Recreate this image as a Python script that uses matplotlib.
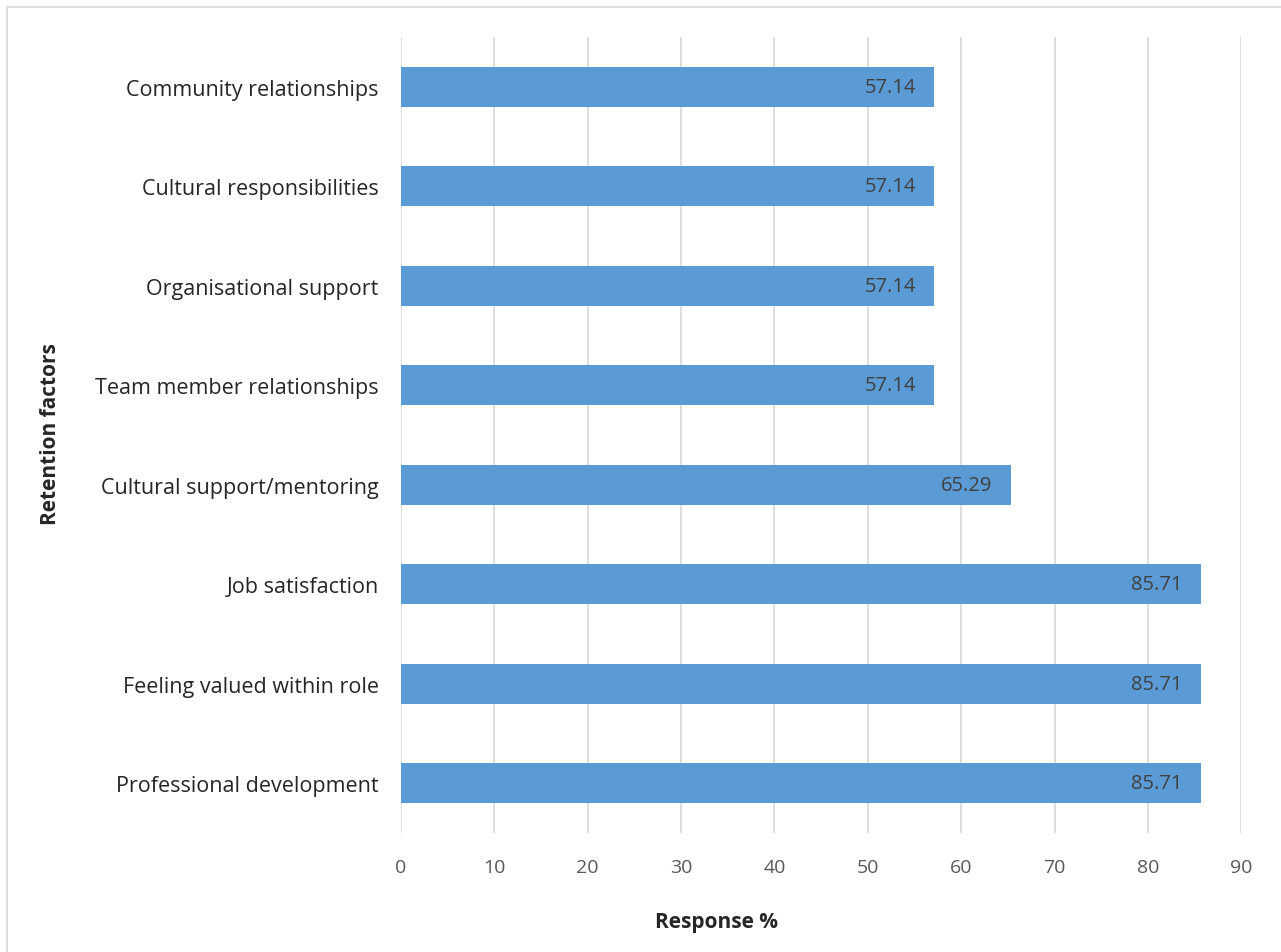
import matplotlib.pyplot as plt
from matplotlib.patches import Rectangle

factors = ['Professional development', 'Feeling valued within role', 'Job satisfaction',
           'Cultural support/mentoring', 'Team member relationships', 'Organisational support',
           'Cultural responsibilities', 'Community relationships']
values = [85.71, 85.71, 85.71, 65.29, 57.14, 57.14, 57.14, 57.14]
ticks = [0, 10, 20, 30, 40, 50, 60, 70, 80, 90]

plt.rcParams['font.family'] = ['Open Sans', 'DejaVu Sans']

fig = plt.figure(figsize=(12.81, 9.53), dpi=100)
ax = fig.add_axes([0.313, 0.125, 0.656, 0.835])

# light border round the whole chart
fig.patches.append(Rectangle((0.0055, -0.01), 1.0, 1.0016, transform=fig.transFigure,
                             fill=False, edgecolor='#d9d9d9', linewidth=1.2))

bars = ax.barh(range(len(factors)), values, height=0.4, color='#5b9bd5', zorder=3)
for b, v in zip(bars, values):
    ax.text(v - 2, b.get_y() + b.get_height() / 2, f'{v:.2f}', ha='right', va='center',
            color='#404040', fontsize=14.5, zorder=4)

ax.set_xlim(0, 90)
ax.set_ylim(-0.5, len(factors) - 0.5)
ax.set_xticks(ticks)
ax.set_yticks(range(len(factors)))
ax.set_yticklabels(factors)
ax.grid(axis='x', color='#d9d9d9', linewidth=1.2, zorder=0)
for s in ax.spines.values():
    s.set_visible(False)
ax.tick_params(axis='x', length=0, pad=18, labelsize=14, labelcolor='#595959')
ax.tick_params(axis='y', length=0, pad=16, labelsize=15.5, labelcolor='#262626')

ax.set_xlabel('Response %', fontsize=15, fontweight='bold', color='#262626', labelpad=24)
ax.xaxis.set_label_coords(0.376, -0.098)
ax.set_ylabel('Retention factors', fontsize=15, fontweight='bold', color='#262626', labelpad=30)
ax.yaxis.set_label_coords(-0.405, 0.502)

fig.savefig('out.png', dpi=100)
